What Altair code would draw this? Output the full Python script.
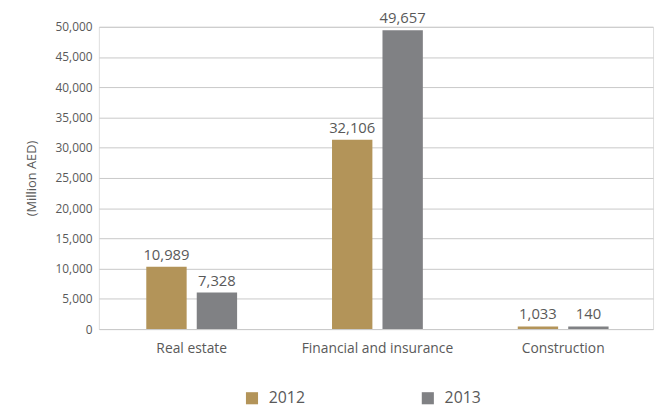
import altair as alt
import pandas as pd

categories = ["Real estate", "Financial and insurance", "Construction"]
years = ["2012", "2013"]
# bar heights (Million AED)
values_2012 = [10300, 31300, 450]
values_2013 = [6050, 49450, 450]
# printed data labels
labels_2012 = ["10,989", "32,106", "1,033"]
labels_2013 = ["7,328", "49,657", "140"]
y_ticks = [0, 5000, 10000, 15000, 20000, 25000, 30000, 35000, 40000, 45000, 50000]

rows = []
for i, c in enumerate(categories):
    rows.append({"category": c, "year": "2012", "value": values_2012[i], "label": labels_2012[i]})
    rows.append({"category": c, "year": "2013", "value": values_2013[i], "label": labels_2013[i]})
df = pd.DataFrame(rows)

FONT = "Open Sans"
TXT = "#595959"

x = alt.X("category:N", sort=categories, title=None,
          scale=alt.Scale(paddingInner=0.511, paddingOuter=0.2473, align=0.516),
          axis=alt.Axis(labelAngle=0, labelFontSize=14, labelColor=TXT, labelFont=FONT,
                        domain=False, ticks=False, labelPadding=13))
xo = alt.XOffset("year:N", sort=years, scale=alt.Scale(paddingInner=0.2, paddingOuter=0))
y = alt.Y("value:Q", title="(Million AED)",
          scale=alt.Scale(domain=[0, 50000], nice=False),
          axis=alt.Axis(values=y_ticks, format=",d", labelOverlap=False,
                        labelFontSize=12, labelColor=TXT, labelFont=FONT, labelPadding=7,
                        domain=False, ticks=False, gridColor="#c8c8c8", gridWidth=1,
                        titleFontSize=13, titleColor=TXT, titleFont=FONT, titleFontWeight="normal",
                        titlePadding=17))

bars = alt.Chart(df).mark_bar().encode(
    x=x, xOffset=xo, y=y,
    color=alt.Color("year:N", sort=years,
                    scale=alt.Scale(domain=years, range=["#b39459", "#808184"]),
                    legend=alt.Legend(title=None, orient="none", direction="horizontal",
                                      legendX=147, legendY=368,
                                      symbolType="square", symbolSize=150, symbolStrokeWidth=0,
                                      labelFontSize=16, labelColor=TXT, labelFont=FONT,
                                      columnPadding=116, labelOffset=9)),
)

texts = alt.Chart(df).mark_text(dy=-12, fontSize=15, font=FONT, color=TXT).encode(
    x=x, xOffset=xo, y=y, text="label:N"
)

chart = (bars + texts).properties(
    width=561, height=306,
    autosize=alt.AutoSizeParams(type="none"),
    padding={"left": 92, "top": 16.5, "right": 4, "bottom": 92},
).configure_view(stroke=None).configure(font=FONT)

chart.save("out.html", embed_options={"renderer": "svg", "actions": False})
